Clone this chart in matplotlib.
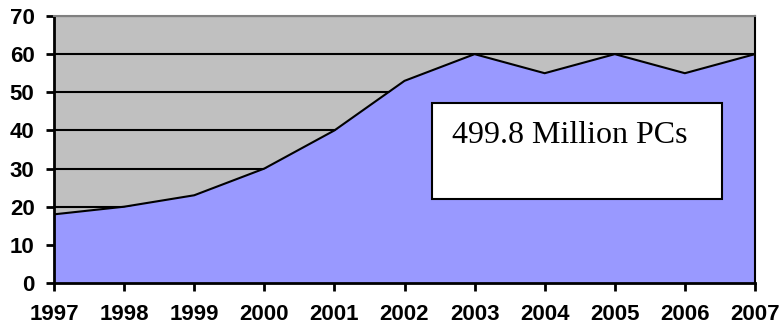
import matplotlib
matplotlib.use("Agg")
import matplotlib.pyplot as plt

years = [1997, 1998, 1999, 2000, 2001, 2002, 2003, 2004, 2005, 2006, 2007]
shipments = [18, 20, 23, 30, 40, 53, 60, 55, 60, 55, 60]
y_ticks = [0, 10, 20, 30, 40, 50, 60, 70]
note = "499.8 Million PCs"

fig = plt.figure(figsize=(7.83, 3.31), dpi=100)
ax = fig.add_axes([54 / 783, 1 - 283 / 331, (755 - 54) / 783, (283 - 16) / 331])
ax.set_facecolor("#C0C0C0")

ax.set_xlim(years[0], years[-1])
ax.set_ylim(0, 70)
ax.set_yticks(y_ticks)
ax.set_xticks(years)

ax.yaxis.grid(True, color="black", linewidth=1.5, zorder=1)
ax.set_axisbelow(True)

ax.fill_between(years, shipments, 0, color="#9999FF", zorder=2, linewidth=0)
ax.plot(years, shipments, color="black", linewidth=1.5, zorder=3, solid_joinstyle="miter")

for side in ["left", "bottom"]:
    ax.spines[side].set_linewidth(2)
    ax.spines[side].set_color("black")
ax.spines["top"].set_color("#808080")
ax.spines["top"].set_linewidth(1.5)
ax.spines["right"].set_color("black")
ax.spines["right"].set_linewidth(1.5)

ax.tick_params(axis="both", direction="out", length=6, width=2, color="black")
ax.tick_params(axis="y", pad=8)
ax.tick_params(axis="x", pad=9)
for lbl in ax.get_xticklabels() + ax.get_yticklabels():
    lbl.set_fontfamily("Liberation Sans")
    lbl.set_fontweight("bold")
    lbl.set_fontsize(16)

# Annotation box with the total
fig.patches.append(plt.Rectangle((432 / 783, 1 - 199 / 331), (722 - 432) / 783, (199 - 103) / 331,
                                 transform=fig.transFigure, facecolor="white",
                                 edgecolor="black", linewidth=1.5, zorder=5))
fig.text(452 / 783, 1 - 143 / 331, note, fontfamily="Liberation Serif", fontsize=23,
         ha="left", va="baseline", zorder=6)

fig.savefig("out.png", dpi=100)
